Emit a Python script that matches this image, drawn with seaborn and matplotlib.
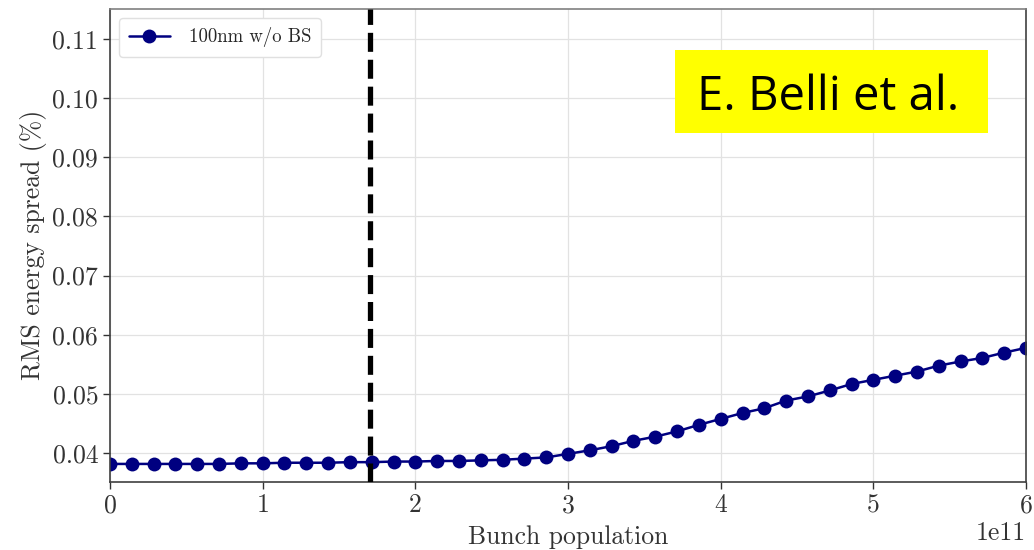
import numpy as np
import pandas as pd
import matplotlib
matplotlib.use("Agg")
import matplotlib.pyplot as plt
from matplotlib.patches import Rectangle
import seaborn as sns

# Bunch population scan (43 points from 0 to 6e11)
bunch_population = np.linspace(0, 6e11, 43)
rms_energy_spread = [
    0.0382, 0.0382, 0.0382, 0.0382, 0.0382, 0.0382, 0.0383, 0.0383,
    0.0384, 0.0384, 0.0384, 0.0385, 0.0385, 0.0386, 0.0386, 0.0387,
    0.0387, 0.0388, 0.0389, 0.0391, 0.0393, 0.0399, 0.0405, 0.0412,
    0.0421, 0.0428, 0.0437, 0.0448, 0.0458, 0.0468, 0.0476, 0.0489,
    0.0496, 0.0506, 0.0517, 0.0524, 0.0531, 0.0538, 0.0548, 0.0555,
    0.0561, 0.0570, 0.0578,
]
series_label = "100nm w/o BS"
nominal_population = 1.7e11
x_ticks = [0, 1e11, 2e11, 3e11, 4e11, 5e11, 6e11]
y_ticks = [0.04, 0.05, 0.06, 0.07, 0.08, 0.09, 0.10, 0.11]

df = pd.DataFrame({"N": bunch_population, "sigma": rms_energy_spread})

sns.set_theme(style="whitegrid")
plt.rcParams["font.family"] = ["cmr10", "DejaVu Serif"]
plt.rcParams["mathtext.fontset"] = "cm"
plt.rcParams["axes.formatter.use_mathtext"] = False

fig = plt.figure(figsize=(10.34, 5.5), dpi=100)
ax = fig.add_axes([0.1064, 0.1242, 0.8859, 0.8603])

sns.lineplot(data=df, x="N", y="sigma", ax=ax, color="#000080",
             marker="o", markersize=10, markeredgewidth=0, linewidth=1.8,
             label=series_label)

ax.axvline(nominal_population, color="black", linestyle=(0, (3.6, 1.5)),
           linewidth=3.8, zorder=3)

ax.set_xlim(0, 6e11)
ax.set_ylim(0.0352, 0.1151)
ax.set_xticks(x_ticks)
ax.set_yticks(y_ticks)
ax.yaxis.set_major_formatter(matplotlib.ticker.FormatStrFormatter("%.2f"))
ax.ticklabel_format(axis="x", style="sci", scilimits=(0, 0), useMathText=False)

ax.grid(True, color="#e2e2e2", linewidth=0.9)
for side in ["left", "bottom", "right", "top"]:
    ax.spines[side].set_visible(True)
    ax.spines[side].set_color("#404040")
    ax.spines[side].set_linewidth(1.2)
ax.spines["top"].set_color("#808080")

ax.tick_params(axis="both", which="major", labelsize=18.5, colors="#333333",
               length=5, width=1, direction="out", bottom=True, left=True)
ax.xaxis.get_offset_text().set_fontsize(18.5)
ax.xaxis.get_offset_text().set_color("#333333")

ax.set_xlabel("Bunch population", fontsize=18.5, color="#333333", labelpad=6)
ax.set_ylabel("RMS energy spread (%)", fontsize=18.5, color="#333333", labelpad=4)

leg = ax.legend(loc="upper left", fontsize=13.5, frameon=True, fancybox=True,
                edgecolor="#e0e0e0", framealpha=1.0, borderpad=0.5,
                handlelength=2.2, handletextpad=1.0)

# Attribution tag in the upper right
fig.patches.append(Rectangle((0.6528, 0.7582), 0.3027, 0.1509,
                             transform=fig.transFigure, facecolor="#ffff00",
                             edgecolor="none", zorder=5))
fig.text(0.674, 0.8236, "E. Belli et al.", family=["Open Sans", "DejaVu Sans"],
         fontsize=34, color="black", ha="left", va="center", zorder=6)

fig.savefig("out.png", dpi=100)
